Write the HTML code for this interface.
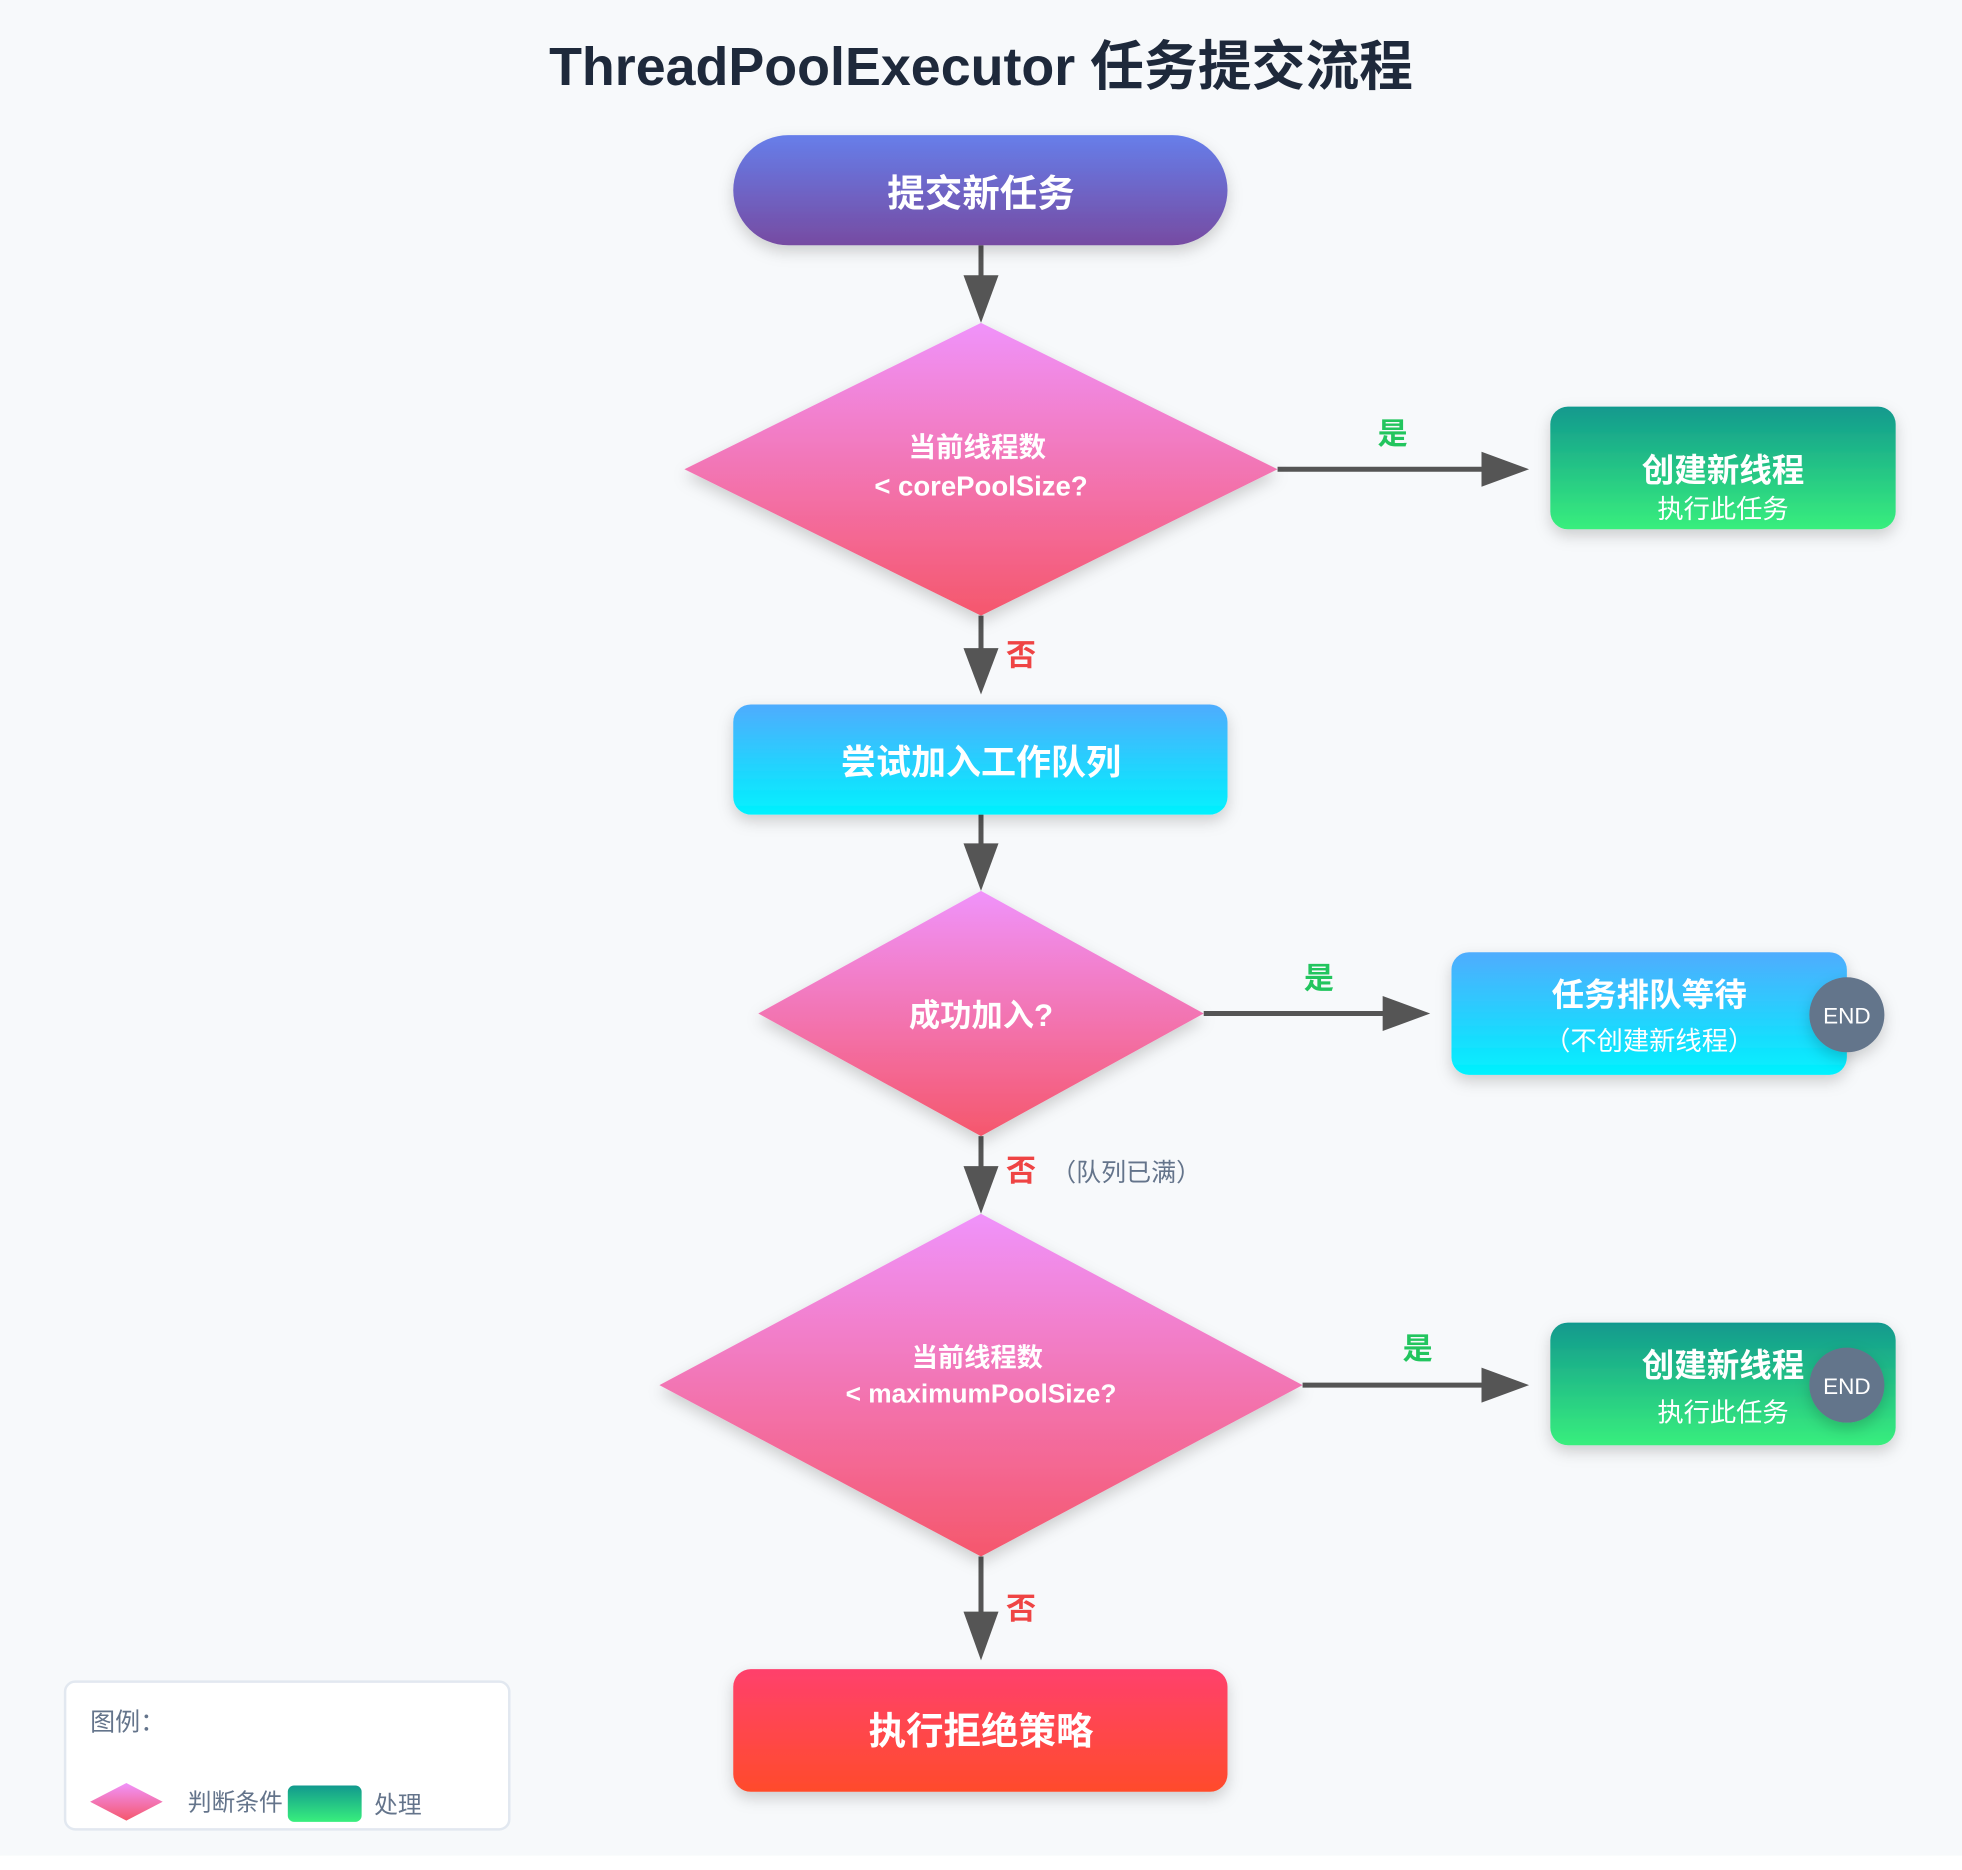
<!DOCTYPE html>
<html><head><meta charset="utf-8"><style>
html,body{margin:0;padding:0;background:#f7f9fb;}
svg{display:block;}
text{font-family:"Liberation Sans","Noto Sans CJK SC",sans-serif;}
</style></head><body>
<svg width="1962" height="1870" viewBox="0 0 1568 1494.5" xmlns="http://www.w3.org/2000/svg">
<defs>
<linearGradient id="gStart" x1="0" y1="0" x2="0" y2="1"><stop offset="0" stop-color="#667eea"/><stop offset="1" stop-color="#764ba2"/></linearGradient>
<linearGradient id="gDia" x1="0" y1="0" x2="0" y2="1"><stop offset="0" stop-color="#f093fb"/><stop offset="1" stop-color="#f5576c"/></linearGradient>
<linearGradient id="gGreen" x1="0" y1="0" x2="0" y2="1"><stop offset="0" stop-color="#11998e"/><stop offset="1" stop-color="#38ef7d"/></linearGradient>
<linearGradient id="gBlue" x1="0" y1="0" x2="0" y2="1"><stop offset="0" stop-color="#4facfe"/><stop offset="1" stop-color="#00f2fe"/></linearGradient>
<linearGradient id="gRed" x1="0" y1="0" x2="0" y2="1"><stop offset="0" stop-color="#ff416c"/><stop offset="1" stop-color="#ff4b2b"/></linearGradient>
<filter id="sh" x="-20%" y="-20%" width="140%" height="150%"><feDropShadow dx="0" dy="5" stdDeviation="6" flood-color="#000" flood-opacity="0.18"/></filter>
</defs>
<rect width="1568" height="1494.5" fill="#ffffff"/>
<rect width="1568" height="1483" fill="#f7f9fb"/>
<text x="784" y="68" font-size="43" font-weight="bold" fill="#1e293b" text-anchor="middle">ThreadPoolExecutor 任务提交流程</text>

<g stroke="#555" stroke-width="4" fill="#555">
<line x1="784" y1="196" x2="784" y2="222"/><path d="M770,220 L798,220 L784,258 z" stroke="none"/>
<line x1="784" y1="492" x2="784" y2="520"/><path d="M770,518 L798,518 L784,555 z" stroke="none"/>
<line x1="784" y1="651" x2="784" y2="676"/><path d="M770,674 L798,674 L784,712 z" stroke="none"/>
<line x1="784" y1="908" x2="784" y2="934"/><path d="M770,932 L798,932 L784,970 z" stroke="none"/>
<line x1="784" y1="1244" x2="784" y2="1290"/><path d="M770,1288 L798,1288 L784,1327 z" stroke="none"/>
<line x1="1021" y1="375" x2="1186" y2="375"/><path d="M1184,361 L1184,389 L1222,375 z" stroke="none"/>
<line x1="962" y1="810" x2="1107" y2="810"/><path d="M1105,796 L1105,824 L1143,810 z" stroke="none"/>
<line x1="1041" y1="1107" x2="1186" y2="1107"/><path d="M1184,1093 L1184,1121 L1222,1107 z" stroke="none"/>
</g>

<rect x="586" y="108" width="395" height="88" rx="44" fill="url(#gStart)" filter="url(#sh)"/>
<text x="784" y="165" font-size="30" font-weight="bold" fill="#fff" text-anchor="middle">提交新任务</text>

<polygon points="784,258 1021,375 784,492 547,375" fill="url(#gDia)" filter="url(#sh)"/>
<text x="781" y="365" font-size="22" font-weight="bold" fill="#fff" text-anchor="middle">当前线程数</text>
<text x="784" y="396" font-size="22" font-weight="bold" fill="#fff" text-anchor="middle">&lt; corePoolSize?</text>

<text x="1113" y="355" font-size="24" font-weight="bold" fill="#22c55e" text-anchor="middle">是</text>
<rect x="1239" y="325" width="276" height="98" rx="14" fill="url(#gGreen)" filter="url(#sh)"/>
<text x="1377" y="385" font-size="26" font-weight="bold" fill="#fff" text-anchor="middle">创建新线程</text>
<text x="1377" y="414" font-size="21" fill="#fff" text-anchor="middle">执行此任务</text>

<text x="816" y="532" font-size="24" font-weight="bold" fill="#ef4444" text-anchor="middle">否</text>
<rect x="586" y="563" width="395" height="88" rx="14" fill="url(#gBlue)" filter="url(#sh)"/>
<text x="784" y="619" font-size="28" font-weight="bold" fill="#fff" text-anchor="middle">尝试加入工作队列</text>

<polygon points="784,712 962,810 784,908 606,810" fill="url(#gDia)" filter="url(#sh)"/>
<text x="784" y="820" font-size="25" font-weight="bold" fill="#fff" text-anchor="middle">成功加入?</text>

<text x="1054" y="790" font-size="24" font-weight="bold" fill="#22c55e" text-anchor="middle">是</text>
<rect x="1160" y="761" width="316" height="98" rx="14" fill="url(#gBlue)" filter="url(#sh)"/>
<text x="1318" y="804" font-size="26" font-weight="bold" fill="#fff" text-anchor="middle">任务排队等待</text>
<text x="1318" y="839" font-size="21" fill="#fff" text-anchor="middle">（不创建新线程）</text>
<circle cx="1476" cy="811" r="30" fill="#64748b" filter="url(#sh)"/>
<text x="1476" y="818" font-size="18" fill="#fff" text-anchor="middle">END</text>

<text x="816" y="944" font-size="24" font-weight="bold" fill="#ef4444" text-anchor="middle">否</text>
<text x="900" y="944" font-size="20" fill="#64748b" text-anchor="middle">（队列已满）</text>

<polygon points="784,970 1041,1107 784,1244 527,1107" fill="url(#gDia)" filter="url(#sh)"/>
<text x="781" y="1092" font-size="21" font-weight="bold" fill="#fff" text-anchor="middle">当前线程数</text>
<text x="784" y="1121" font-size="21" font-weight="bold" fill="#fff" text-anchor="middle">&lt; maximumPoolSize?</text>

<text x="1133" y="1086" font-size="24" font-weight="bold" fill="#22c55e" text-anchor="middle">是</text>
<rect x="1239" y="1057" width="276" height="98" rx="14" fill="url(#gGreen)" filter="url(#sh)"/>
<text x="1377" y="1100" font-size="26" font-weight="bold" fill="#fff" text-anchor="middle">创建新线程</text>
<text x="1377" y="1136" font-size="21" fill="#fff" text-anchor="middle">执行此任务</text>
<circle cx="1476" cy="1107" r="30" fill="#64748b" filter="url(#sh)"/>
<text x="1476" y="1114" font-size="18" fill="#fff" text-anchor="middle">END</text>

<text x="816" y="1294" font-size="24" font-weight="bold" fill="#ef4444" text-anchor="middle">否</text>
<rect x="586" y="1334" width="395" height="98" rx="14" fill="url(#gRed)" filter="url(#sh)"/>
<text x="784" y="1394" font-size="30" font-weight="bold" fill="#fff" text-anchor="middle">执行拒绝策略</text>

<rect x="52" y="1344" width="355" height="118" rx="8" fill="#fff" stroke="#e2e8f0" stroke-width="2"/>
<text x="72" y="1383" font-size="20" fill="#64748b">图例：</text>
<polygon points="101,1425 130,1440 101,1455 72,1440" fill="url(#gDia)"/>
<text x="150" y="1447" font-size="19" fill="#64748b">判断条件</text>
<rect x="230" y="1427" width="59" height="29" rx="5" fill="url(#gGreen)"/>
<text x="299" y="1449" font-size="19" fill="#64748b">处理</text>
</svg>
</body></html>
